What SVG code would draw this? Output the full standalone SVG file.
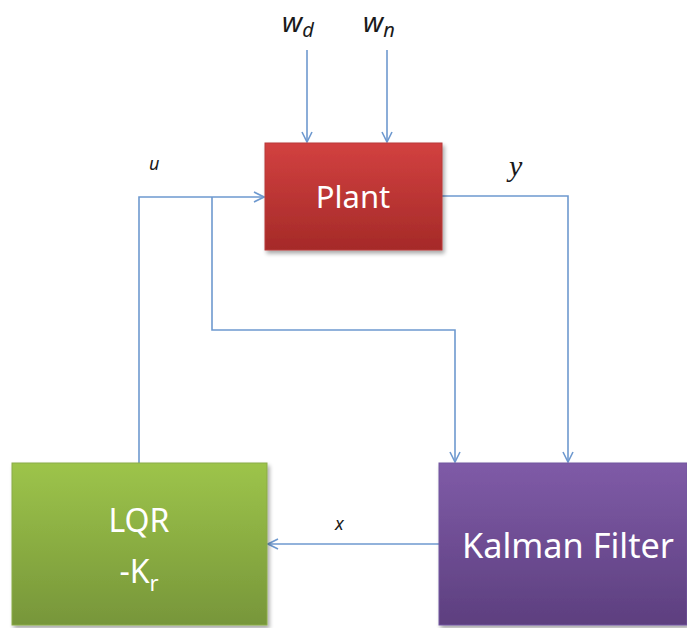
<svg xmlns="http://www.w3.org/2000/svg" width="687" height="628" viewBox="0 0 687 628">
<defs>
<style>
.ln{fill:none;stroke:#6e99cf;stroke-width:1.6}
.wt{fill:#ffffff;font-family:"Noto Sans","Open Sans",sans-serif;text-anchor:middle}
.lb{font-family:"Noto Sans","Open Sans",sans-serif;font-style:italic;fill:#1a1a1a}
</style>
<linearGradient id="gRed" x1="0" y1="0" x2="0" y2="1"><stop offset="0" stop-color="#d24140"/><stop offset="1" stop-color="#a52a28"/></linearGradient>
<linearGradient id="gGreen" x1="0" y1="0" x2="0" y2="1"><stop offset="0" stop-color="#9dc44a"/><stop offset="1" stop-color="#77963a"/></linearGradient>
<linearGradient id="gPurple" x1="0" y1="0" x2="0" y2="1"><stop offset="0" stop-color="#7f5ba7"/><stop offset="1" stop-color="#5d3f7f"/></linearGradient>
<filter id="sh" x="-10%" y="-10%" width="125%" height="125%"><feGaussianBlur in="SourceAlpha" stdDeviation="2"/><feOffset dx="2" dy="3"/><feComponentTransfer><feFuncA type="linear" slope="0.35"/></feComponentTransfer><feMerge><feMergeNode/><feMergeNode in="SourceGraphic"/></feMerge></filter>
<marker id="ar" viewBox="0 0 12 12" refX="11" refY="6" markerWidth="12" markerHeight="12" markerUnits="userSpaceOnUse" orient="auto"><path d="M1,1 L11,6 L1,11" fill="none" stroke="#6e99cf" stroke-width="1.6"/></marker>
</defs>
<g id="connectors">
<path class="ln" d="M307,50 V142" marker-end="url(#ar)"/>
<path class="ln" d="M387,50 V142" marker-end="url(#ar)"/>
<path class="ln" d="M139,463 V197 H264" marker-end="url(#ar)"/>
<path class="ln" d="M212,197 V330 H455 V462" marker-end="url(#ar)"/>
<path class="ln" d="M442,196 H568 V462" marker-end="url(#ar)"/>
<path class="ln" d="M439,544 H268" marker-end="url(#ar)"/>
</g>
<g id="plant">
<rect x="265" y="143" width="177" height="107" fill="url(#gRed)" stroke="#b83a38" stroke-width="1" filter="url(#sh)"/>
<text class="wt" x="353" y="208" font-size="31">Plant</text>
</g>
<g id="lqr">
<rect x="12" y="463" width="255" height="162" fill="url(#gGreen)" stroke="#8aab48" stroke-width="1" filter="url(#sh)"/>
<text class="wt" x="139" y="532" font-size="32">LQR</text>
<text class="wt" x="139" y="583" font-size="32">-K<tspan font-size="22" dy="8">r</tspan></text>
</g>
<g id="kalman">
<rect x="439" y="463" width="248" height="162" fill="url(#gPurple)" stroke="#7256a0" stroke-width="1" filter="url(#sh)"/>
<text class="wt" x="568" y="558" font-size="34" textLength="212" lengthAdjust="spacingAndGlyphs">Kalman Filter</text>
</g>
<g id="labels">
<text class="lb" x="282" y="32" font-size="28">w<tspan font-size="20" dy="5">d</tspan></text>
<text class="lb" x="363" y="32" font-size="28">w<tspan font-size="20" dy="5">n</tspan></text>
<text class="lb" x="149" y="170" font-size="18">u</text>
<text x="509" y="176" font-size="30" font-style="italic" font-family="'Liberation Serif',serif" fill="#1a1a1a">y</text>
<text class="lb" x="335" y="530" font-size="18">x</text>
</g>
</svg>
